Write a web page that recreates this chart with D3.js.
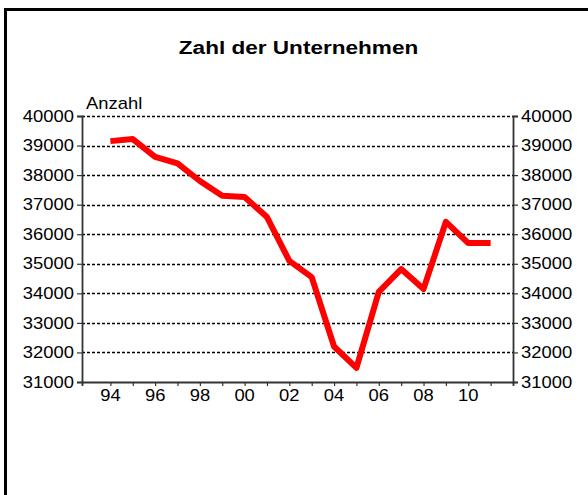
<!DOCTYPE html>
<html>
<head>
<meta charset="utf-8">
<script src="https://cdn.jsdelivr.net/npm/d3@7"></script>
<style>
  html, body { margin: 0; padding: 0; background: #fff; }
  svg { display: block; font-family: "Liberation Sans", Arial, sans-serif; }
</style>
</head>
<body>
<svg id="chart" width="588" height="495"></svg>
<script>
// ---- data ----
const years = [1994,1995,1996,1997,1998,1999,2000,2001,2002,2003,2004,2005,2006,2007,2008,2009,2010,2011];
const values = [39150,39220,38620,38400,37800,37300,37260,36580,35100,34550,32200,31480,34050,34820,34150,36420,35700,35700];
const xTickYears = [1994,1996,1998,2000,2002,2004,2006,2008,2010];
const xTickLabels = ["94","96","98","00","02","04","06","08","10"];
const yTicks = [31000,32000,33000,34000,35000,36000,37000,38000,39000,40000];
const title = "Zahl der Unternehmen";
const yTitle = "Anzahl";

// ---- layout ----
const svg = d3.select("#chart");
const pL = 82, pR = 513, pT = 116, pB = 382;
const sx = 1.15; // horizontal stretch of text

const x = d3.scaleLinear().domain([1992.73, 2012]).range([pL, pR]);
const y = d3.scaleLinear().domain([31000, 40000]).range([pB, pT]);

// frame
svg.append("rect")
  .attr("x", 5.5).attr("y", 9.5).attr("width", 700).attr("height", 600)
  .attr("fill", "none").attr("stroke", "#000").attr("stroke-width", 3);

// title
svg.append("text")
  .attr("transform", `translate(${(pL + pR) / 2 + 1},${54}) scale(1.22,1)`)
  .attr("text-anchor", "middle")
  .attr("font-size", 18.5).attr("font-weight", "bold")
  .text(title);

// gridlines
svg.append("g").selectAll("line")
  .data(yTicks.filter(d => d > 31000))
  .join("line")
  .attr("x1", pL).attr("x2", pR)
  .attr("y1", d => Math.round(y(d)) + 0.5).attr("y2", d => Math.round(y(d)) + 0.5)
  .attr("stroke", "#000").attr("stroke-width", 1.4)
  .attr("stroke-dasharray", "3,2");

// left axis
const gL = svg.append("g").attr("transform", `translate(${pL},0)`)
  .call(d3.axisLeft(y).tickValues(yTicks).tickSize(5).tickPadding(3).tickFormat(d3.format("d")));
// right axis
const gR = svg.append("g").attr("transform", `translate(${pR},0)`)
  .call(d3.axisRight(y).tickValues(yTicks).tickSize(5).tickPadding(3).tickFormat(d3.format("d")));

[gL, gR].forEach(g => {
  g.select(".domain").attr("stroke", "#333").attr("stroke-width", 1.8);
  g.selectAll(".tick line").attr("stroke", "#333").attr("stroke-width", 1.2);
  g.selectAll(".tick text").attr("font-size", 16).attr("fill", "#000")
    .attr("font-family", "Liberation Sans, Arial, sans-serif");
  g.selectAll(".tick text").each(function() {
    const t = d3.select(this);
    const xx = +t.attr("x");
    t.attr("x", xx / sx).attr("transform", `scale(${sx},1)`);
  });
});

// bottom axis
const gB = svg.append("g").attr("transform", `translate(0,${pB})`)
  .call(d3.axisBottom(x).tickValues(d3.range(1994, 2012)).tickSize(4).tickFormat(""));
gB.select(".domain").attr("stroke", "#333").attr("stroke-width", 1.8);
gB.selectAll(".tick line").attr("stroke", "#333").attr("stroke-width", 1.2);

svg.append("g").selectAll("text")
  .data(xTickYears)
  .join("text")
  .attr("transform", d => `translate(${x(d)},${pB + 19}) scale(${sx},1)`)
  .attr("text-anchor", "middle")
  .attr("font-size", 16)
  .text((d, i) => xTickLabels[i]);

// y title
svg.append("text")
  .attr("transform", `translate(86,109) scale(${sx},1)`)
  .attr("font-size", 16)
  .text(yTitle);

// line
const line = d3.line().x((d, i) => x(years[i])).y(d => y(d));
svg.append("path")
  .datum(values)
  .attr("d", line)
  .attr("fill", "none")
  .attr("stroke", "#ff0000")
  .attr("stroke-width", 6)
  .attr("stroke-linejoin", "round");
</script>
</body>
</html>
